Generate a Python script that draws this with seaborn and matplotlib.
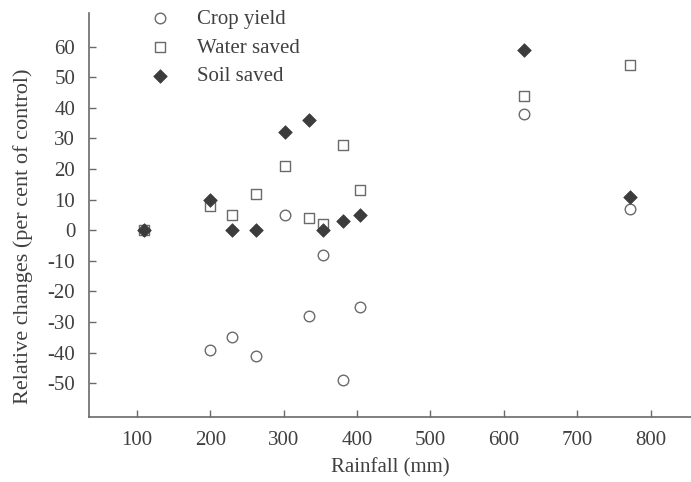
import pandas as pd
import matplotlib
matplotlib.use("Agg")
import matplotlib.pyplot as plt
import seaborn as sns

# Data
rainfall = [110, 199, 229, 262, 302, 334, 353, 381, 404, 628, 772]
crop_yield = [0, -39, -35, -41, 5, -28, -8, -49, -25, 38, 7]
water_saved = [0, 8, 5, 12, 21, 4, 2, 28, 13, 44, 54]
soil_saved = [0, 10, 0, 0, 32, 36, 0, 3, 5, 59, 11]

x_ticks = [100, 200, 300, 400, 500, 600, 700, 800]
y_ticks = [-50, -40, -30, -20, -10, 0, 10, 20, 30, 40, 50, 60]

sns.set_style("ticks")
plt.rcParams['font.family'] = ['Liberation Serif', 'DejaVu Serif']
plt.rcParams['axes.unicode_minus'] = False

fig = plt.figure(figsize=(6.91, 4.82), dpi=100)
ax = fig.add_axes([0.129, 0.135, 0.871, 0.838])

text_col = "#404040"
edge_col = "#6a6a6a"

sns.scatterplot(x=rainfall, y=crop_yield, ax=ax, marker="o", s=58,
                facecolor="white", edgecolor=edge_col, linewidth=1.0,
                label="Crop yield", zorder=3)
sns.scatterplot(x=rainfall, y=water_saved, ax=ax, marker="s", s=58,
                facecolor="white", edgecolor=edge_col, linewidth=1.0,
                label="Water saved", zorder=4)
sns.scatterplot(x=rainfall, y=soil_saved, ax=ax, marker="D", s=48,
                facecolor="#3c3c3c", edgecolor="#3c3c3c", linewidth=0.5,
                label="Soil saved", zorder=5)

ax.set_xlim(35, 855)
ax.set_ylim(-61, 71)
ax.set_xticks(x_ticks)
ax.set_yticks(y_ticks)
ax.tick_params(direction="in", length=5, width=1, colors=edge_col,
               labelcolor=text_col, labelsize=15, pad=10)

ax.set_xlabel("Rainfall (mm)", fontsize=15, color=text_col, labelpad=6)
ax.set_ylabel("Relative changes (per cent of control)", fontsize=16,
              color=text_col)
ax.yaxis.set_label_coords(-0.093, 0.448)

for side in ["top", "right"]:
    ax.spines[side].set_visible(False)
for side in ["left", "bottom"]:
    ax.spines[side].set_color(edge_col)
    ax.spines[side].set_linewidth(1.2)

leg = ax.legend(loc="upper left", bbox_to_anchor=(0.083, 1.01), frameon=False,
                fontsize=15, handletextpad=0.8, handlelength=2.0,
                labelspacing=0.45, borderpad=0, borderaxespad=0)
for t in leg.get_texts():
    t.set_color(text_col)

plt.savefig("out.png", dpi=100)
